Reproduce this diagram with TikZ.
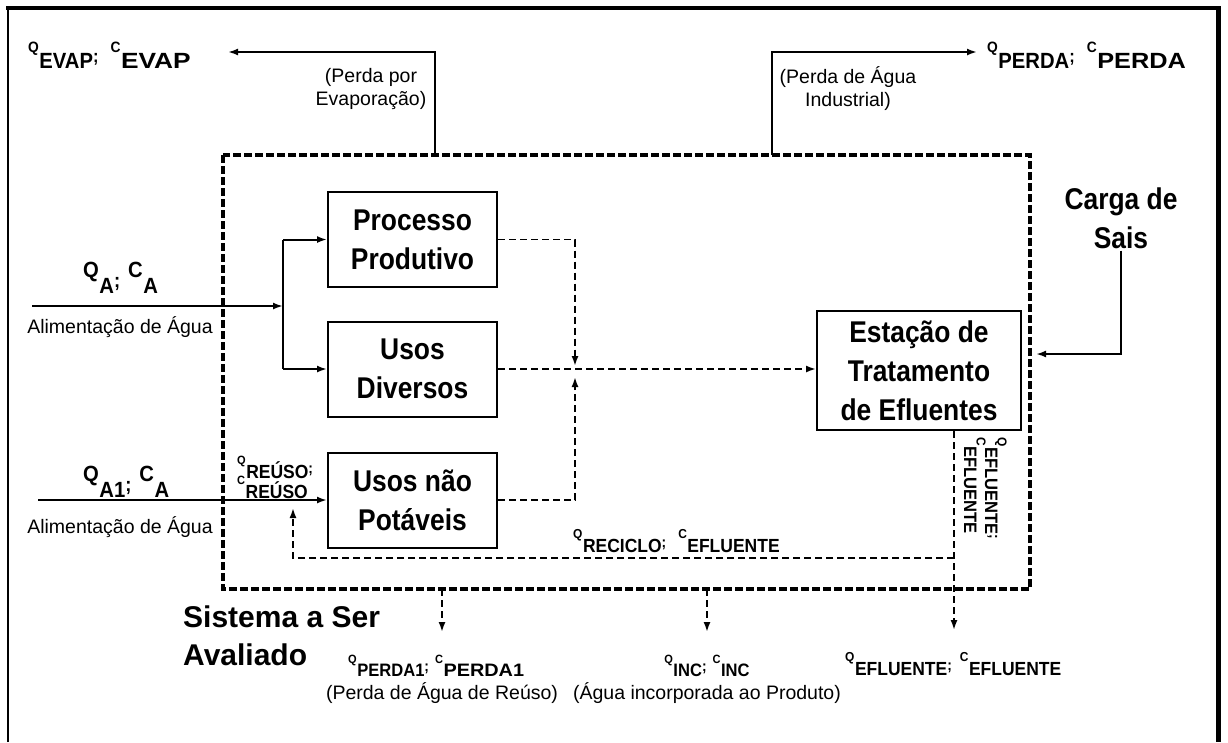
\documentclass[tikz,border=0pt]{standalone}
\usepackage{fontspec}
\usepackage{graphicx}
\setmainfont{Liberation Sans}
\newfontfamily\condb{Liberation Sans}[FakeStretch=0.88]
\newfontfamily\subf{Liberation Sans}[FakeStretch=0.92]
\usetikzlibrary{arrows.meta}
% #1 xscale of subscript, #2 main size, #3 sub size, #4 letter, #5 subscript
\newcommand\ql[5][1]{\raisebox{\dimexpr #3pt*7/10\relax}{\fontsize{#2}{#2}\selectfont #4}\kern0.5pt\scalebox{#1}[1]{\fontsize{#3}{#3}\selectfont #5}}
\newcommand\sm[2]{\raisebox{\dimexpr #2pt*3/10\relax}{\fontsize{#2}{#2}\selectfont ;}}
\tikzset{
  box/.style={draw, line width=2pt, minimum width=169pt, minimum height=95pt, align=center,
    font=\condb\bfseries\fontsize{30}{39}\selectfont},
  flow/.style={line width=2pt, -{Latex[length=10pt,width=7pt]}},
  dflow/.style={line width=1.8pt, dash pattern=on 7pt off 4pt, -{Latex[length=10pt,width=7pt]}},
  sysb/.style={line width=3.5pt, dash pattern=on 8pt off 3pt},
  small/.style={font=\fontsize{19.5}{23}\selectfont, align=center, inner sep=0pt},
  lab/.style={font=\subf\bfseries, inner sep=0pt},
  title/.style={font=\condb\bfseries\fontsize{30}{39}\selectfont, align=center, inner sep=2pt},
}
\begin{document}
\begin{tikzpicture}[x=1pt,y=-1pt]
\useasboundingbox (0,0) rectangle (1228,742);
\fill[white] (0,0) rectangle (1228,742);
% outer frame
\draw[line width=2.5pt] (8,742) -- (8,8);
\draw[line width=4pt] (6,8) -- (1220,8);
\draw[line width=5pt] (1218,6) -- (1218,742);
% system boundary
\coordinate (s1) at (223,155);
\coordinate (s2) at (1030,589);
\draw[sysb] (s1) rectangle (s2);
% boxes
\node[box] (pp) at (412.5,239.5) {Processo\\Produtivo};
\node[box] (ud) at (412.5,369) {Usos\\Diversos};
\node[box] (un) at (412.5,500) {Usos não\\Potáveis};
\node[box, minimum width=204pt, minimum height=119pt] (ete) at (919,370.5) {Estação de\\Tratamento\\de Efluentes};
% titles
\node[title] (carga) at (1121,218) {Carga de\\Sais};
\node[title, font=\bfseries\fontsize{30}{38}\selectfont, align=left, anchor=west] (sist) at (181,636) {Sistema a Ser\\Avaliado};
% evaporation & industrial loss
\coordinate (evS) at (435,155);
\coordinate (evE) at (228,52);
\draw[flow] (evS) |- (evE);
\coordinate (peS) at (772,155);
\coordinate (peE) at (977,52);
\draw[flow] (peS) |- (peE);
\node[lab, anchor=base west] (qevap) at (28,68) {\ql{15}{22}{Q}{EVAP}\sm{15}{18}\hspace{12pt}\ql[1.3]{15}{22}{C}{EVAP}};
\node[lab, anchor=base west] (qperda) at (987,68) {\ql{15}{22}{Q}{PERDA}\sm{15}{18}\hspace{12pt}\ql[1.25]{15}{22}{C}{PERDA}};
\node[small] (tev) at (371,88.5) {(Perda por\\Evaporação)};
\node[small] (tpe) at (848,88.5) {(Perda de Água\\Industrial)};
% water feed A
\coordinate (fa) at (32,306);
\coordinate (split) at (283,306);
\draw[flow] (fa) -- (split);
\draw[line width=2pt] (split |- pp.west) -- (split |- ud.west);
\draw[flow] (split |- pp.west) -- (pp.west);
\draw[flow] (split |- ud.west) -- (ud.west);
\node[lab, anchor=base west] (qa) at (83,293) {\ql{22}{22}{Q}{A}\sm{22}{20}\hspace{8pt}\ql{22}{22}{C}{A}};
\node[small] (al1) at (120,327) {Alimentação de Água};
% water feed A1
\coordinate (fa1) at (38,500);
\draw[flow] (fa1) -- (un.west);
\node[lab, anchor=base west] (qa1) at (83,497) {\ql{22}{22}{Q}{A1}\sm{22}{20}\hspace{8pt}\ql{22}{22}{C}{A}};
\node[small] (al2) at (120,527) {Alimentação de Água};
% reuse labels
\node[lab, anchor=base west] (qr1) at (237,478) {\ql{12}{19}{Q}{REÚSO}\sm{12}{15}};
\node[lab, anchor=base west] (qr2) at (237,498) {\ql{12}{19}{C}{REÚSO}};
% internal dashed flows
\coordinate (jt) at (575,366);
\coordinate (jb) at (575,377);
\draw[dflow] (pp.east) -| (jt);
\draw[dflow] (un.east) -| (jb);
\draw[dflow] (ud.east) -- (ud.east -| ete.west);
% salt load
\coordinate (cin) at (1036,354);
\draw[flow] (carga.south) |- (cin);
% effluent & recycle
\coordinate (eff) at (954,630);
\draw[dflow] (eff |- ete.south) -- (eff);
\coordinate (rc1) at (954,558);
\coordinate (rc2) at (293,508);
\draw[dflow] (rc1) -| (rc2);
\node[lab, anchor=base west] (qrec) at (573,552) {\ql{13}{19}{Q}{RECICLO}\sm{13}{15}\hspace{12pt}\ql{13}{19}{C}{EFLUENTE}};
\node[lab, anchor=base west, rotate=-90] (qv1) at (985,437) {\ql{13}{18}{Q}{EFLUENTE}\sm{13}{15}};
\node[lab, anchor=base west, rotate=-90] (qv2) at (964,437) {\ql{13}{18}{C}{EFLUENTE}};
% bottom outputs
\coordinate (p1s) at (442,589);
\coordinate (p1e) at (442,632);
\draw[dflow] (p1s) -- (p1e);
\coordinate (ins) at (707,589);
\coordinate (ine) at (707,632);
\draw[dflow] (ins) -- (ine);
\node[lab, anchor=base west] (qp1) at (348,676) {\ql{12}{18}{Q}{PERDA1}\sm{12}{15}\hspace{6pt}\ql[1.2]{12}{18}{C}{PERDA1}};
\node[lab, anchor=base] (qinc) at (707,676) {\ql{12}{18}{Q}{INC}\sm{12}{15}\hspace{6pt}\ql{12}{18}{C}{INC}};
\node[lab, anchor=base west] (qeff) at (845,675) {\ql{13}{19}{Q}{EFLUENTE}\sm{13}{15}\hspace{8pt}\ql{13}{19}{C}{EFLUENTE}};
\node[small] (tp1) at (442,693) {(Perda de Água de Reúso)};
\node[small] (tinc) at (707,693) {(Água incorporada ao Produto)};
\end{tikzpicture}
\end{document}
